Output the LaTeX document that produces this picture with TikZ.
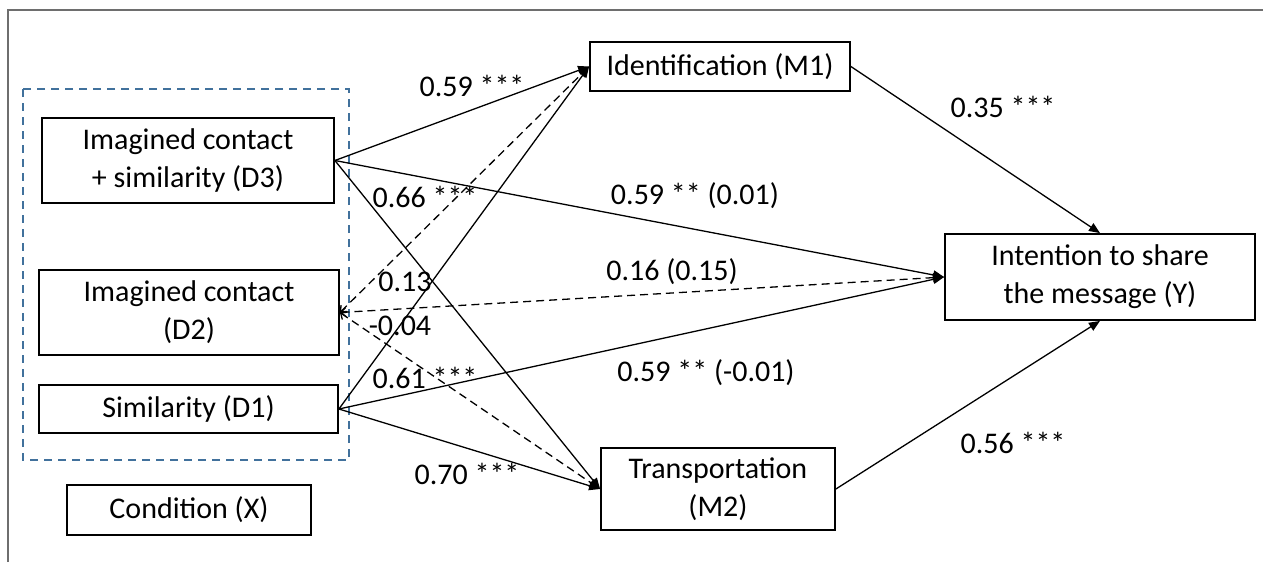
\documentclass[tikz,border=0pt]{standalone}
\usepackage{fontspec}
\setmainfont{Carlito}
\usetikzlibrary{arrows.meta}
\definecolor{framegray}{HTML}{6E6E6E}
\definecolor{groupblue}{HTML}{41719C}
\begin{document}
\begin{tikzpicture}[x=1pt,y=-1pt,
  box/.style={draw=black,line width=1.8pt,rectangle,align=center,inner sep=0pt,
    font=\fontsize{30}{38}\selectfont},
  path/.style={line width=1.3pt,-{Triangle[length=11pt,width=9pt]}},
  dpath/.style={line width=1.3pt,dash pattern=on 8pt off 5pt,
    {Straight Barb[length=5pt,width=9pt]}-{Triangle[length=11pt,width=9pt]}},
  coef/.style={font=\fontsize{30}{34}\selectfont,inner sep=1pt}]
\useasboundingbox (0,0) rectangle (1263,562);
% outer frame
\draw[framegray,line width=2pt] (8,562) -- (8,10) -- (1263,10);
% group of dummy-coded conditions
\draw[groupblue,line width=1.5pt,dash pattern=on 8pt off 6pt] (23,89) rectangle (349,460);
% variables
\node[box,minimum width=292pt,minimum height=85pt] (d3) at (188,160.5) {Imagined contact\\+ similarity (D3)};
\node[box,minimum width=300pt,minimum height=85pt] (d2) at (189,312.5) {Imagined contact\\(D2)};
\node[box,minimum width=299pt,minimum height=48pt] (d1) at (188.5,409) {Similarity (D1)};
\node[box,minimum width=244pt,minimum height=50pt] (x) at (189,510) {Condition (X)};
\node[box,minimum width=260pt,minimum height=49pt] (m1) at (720,66.5) {Identification (M1)};
\node[box,minimum width=234pt,minimum height=82pt] (m2) at (718,489) {Transportation\\(M2)};
\node[box,minimum width=310pt,minimum height=86pt] (y) at (1100,277) {Intention to share\\the message (Y)};
% paths from D3
\draw[path] (d3.east) -- (m1.west);
\draw[path] (d3.east) -- (y.west);
\draw[path] (d3.east) -- (m2.west);
% paths from D2 (non-significant, dashed)
\draw[dpath] (d2.east) -- (m1.west);
\draw[dpath] (d2.east) -- (y.west);
\draw[dpath] (d2.east) -- (m2.west);
% paths from D1
\draw[path] (d1.east) -- (m1.west);
\draw[path] (d1.east) -- (y.west);
\draw[path] (d1.east) -- (m2.west);
% mediators to outcome
\draw[path] (m1.east) -- (y.north);
\draw[path] (m2.east) -- (y.south);
% coefficients
\node[coef] (c1) at (472,86) {0.59 ***};
\node[coef] (c2) at (425,197) {0.66 ***};
\node[coef] (c3) at (695,196) {0.59 ** (0.01)};
\node[coef] (c4) at (672,272) {0.16 (0.15)};
\node[coef] (c5) at (405,282) {0.13};
\node[coef] (c6) at (400,326) {-0.04};
\node[coef] (c7) at (425,378) {0.61 ***};
\node[coef] (c8) at (706,373) {0.59 ** (-0.01)};
\node[coef] (c9) at (467,474) {0.70 ***};
\node[coef] (c10) at (1003,107) {0.35 ***};
\node[coef] (c11) at (1013,443) {0.56 ***};
\end{tikzpicture}
\end{document}
